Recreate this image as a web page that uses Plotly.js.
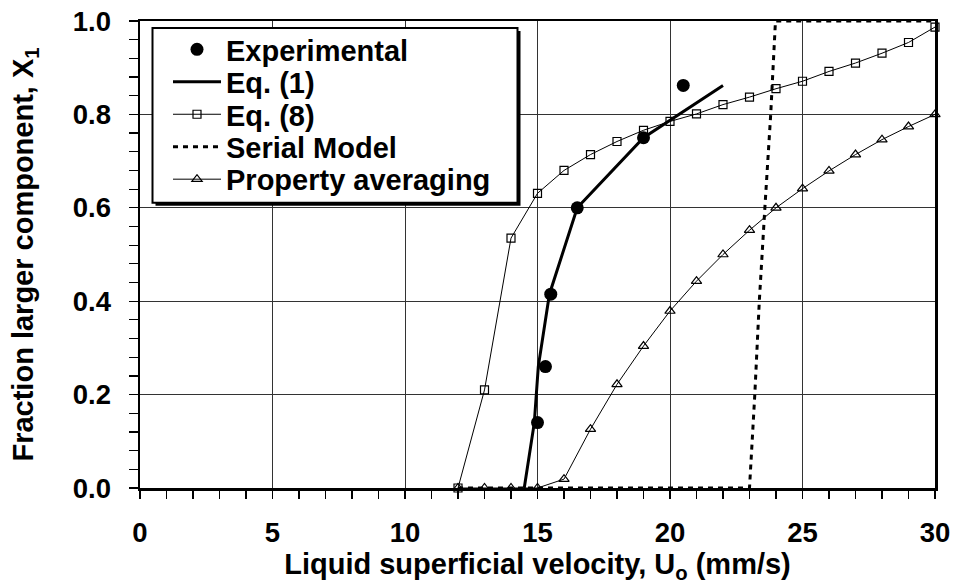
<!DOCTYPE html>
<html>
<head>
<meta charset="utf-8">
<script src="https://cdn.plot.ly/plotly-3.0.1.min.js"></script>
<style>html,body{margin:0;padding:0;background:#fff;}#chart{width:953px;height:584px;}</style>
</head>
<body>
<div id="chart"></div>
<script>
// ---- data ----
var expX = [15.0, 15.3, 15.5, 16.5, 19.0, 20.5];
var expY = [0.14, 0.26, 0.415, 0.60, 0.75, 0.862];

var eq1X = [14.5, 14.88, 15.03, 15.45, 16.5, 19.0, 22.0];
var eq1Y = [0.0, 0.14, 0.26, 0.415, 0.60, 0.75, 0.862];

var eq8X = [12, 13, 14, 15, 16, 17, 18, 19, 20, 21, 22, 23, 24, 25, 26, 27, 28, 29, 30];
var eq8Y = [0.0, 0.21, 0.535, 0.631, 0.68, 0.714, 0.742, 0.766, 0.785, 0.801, 0.821, 0.837, 0.855, 0.871, 0.892, 0.91, 0.931, 0.954, 0.987];

var serX = [12, 23.0, 23.2, 23.37, 23.58, 23.8, 23.98, 30];
var serY = [0.0, 0.0, 0.2, 0.4, 0.6, 0.8, 1.0, 1.0];

var propX = [12, 13, 14, 15, 16, 17, 18, 19, 20, 21, 22, 23, 24, 25, 26, 27, 28, 29, 30];
var propY = [0.0, 0.0, 0.0, 0.0, 0.019, 0.126, 0.222, 0.304, 0.379, 0.443, 0.50, 0.552, 0.60, 0.641, 0.679, 0.714, 0.746, 0.774, 0.80];

var xTickVals = [0, 5, 10, 15, 20, 25, 30];
var yTickVals = [0.0, 0.2, 0.4, 0.6, 0.8, 1.0];

var FONT = 'Liberation Sans, Arial, Helvetica, sans-serif';

var traces = [
  {x: eq8X, y: eq8Y, name: 'Eq. (8)', type: 'scatter', mode: 'lines+markers',
   line: {color: '#000', width: 1},
   marker: {symbol: 'square-open', size: 8, color: '#000', line: {width: 1.2, color: '#000'}},
   legend: 'legend3', cliponaxis: false},
  {x: propX, y: propY, name: 'Property averaging', type: 'scatter', mode: 'lines+markers',
   line: {color: '#000', width: 1},
   marker: {symbol: 'triangle-up-open', size: 9, color: '#000', line: {width: 1.2, color: '#000'}},
   legend: 'legend5', cliponaxis: false},
  {x: serX, y: serY, name: 'Serial Model', type: 'scatter', mode: 'lines',
   line: {color: '#000', width: 3, dash: '5px,5px'},
   legend: 'legend4'},
  {x: eq1X, y: eq1Y, name: 'Eq. (1)', type: 'scatter', mode: 'lines',
   line: {color: '#000', width: 3},
   legend: 'legend2'},
  {x: expX, y: expY, name: 'Experimental', type: 'scatter', mode: 'markers',
   marker: {symbol: 'circle', size: 13, color: '#000'},
   legend: 'legend', cliponaxis: false}
];

// plot area in px: x 140..935, y 20.5..488
function px2x(p) { return (p - 140) / 795; }
function px2y(p) { return (488 - p) / 467.5; }

function leg(yc) {
  return {x: px2x(168), y: px2y(yc), xanchor: 'left', yanchor: 'middle',
    bgcolor: 'rgba(0,0,0,0)', borderwidth: 0,
    font: {family: FONT, size: 29, color: '#000', weight: 'bold'},
    itemwidth: 48};
}

var layout = {
  width: 953, height: 584,
  margin: {l: 140, r: 18, t: 20.5, b: 96},
  paper_bgcolor: '#fff', plot_bgcolor: '#fff',
  font: {family: FONT, color: '#000', weight: 'bold'},
  showlegend: true,
  legend: leg(49),
  legend2: leg(81.5),
  legend3: leg(114),
  legend4: leg(146.5),
  legend5: leg(179),
  xaxis: {
    range: [0, 30], tickmode: 'array', tickvals: xTickVals,
    showgrid: true, gridcolor: '#333', gridwidth: 1,
    showline: true, linecolor: '#000', linewidth: 2.5, mirror: true,
    ticks: 'outside', ticklen: 8, tickwidth: 1.2, tickcolor: '#000',
    minor: {dtick: 1, tick0: 0, ticks: 'outside', ticklen: 8, tickwidth: 1.2, tickcolor: '#000', showgrid: false},
    tickfont: {family: FONT, size: 27.5, color: '#000', weight: 'bold'},
    ticklabelstandoff: 10,
    zeroline: false,
    title: {text: 'Liquid superficial velocity, U<sub>o</sub> (mm/s)', standoff: 9,
      font: {family: FONT, size: 29, color: '#000', weight: 'bold'}}
  },
  yaxis: {
    range: [0, 1], tickmode: 'array', tickvals: yTickVals, tickformat: '.1f',
    showgrid: true, gridcolor: '#333', gridwidth: 1,
    showline: true, linecolor: '#000', linewidth: 2.5, mirror: true,
    ticks: 'outside', ticklen: 9, tickwidth: 1.2, tickcolor: '#000',
    minor: {dtick: 0.04, tick0: 0, ticks: 'outside', ticklen: 9, tickwidth: 1.2, tickcolor: '#000', showgrid: false},
    tickfont: {family: FONT, size: 27.5, color: '#000', weight: 'bold'},
    ticklabelstandoff: 12,
    zeroline: false,
    title: {text: 'Fraction larger component, X<sub>1</sub>', standoff: 31,
      font: {family: FONT, size: 29, color: '#000', weight: 'bold'}}
  },
  shapes: [
    {type: 'rect', xref: 'paper', yref: 'paper', layer: 'above',
     x0: px2x(155.5), x1: px2x(520.5), y0: px2y(205.5), y1: px2y(30.5),
     fillcolor: '#000', line: {width: 0}},
    {type: 'rect', xref: 'paper', yref: 'paper', layer: 'above',
     x0: px2x(152.5), x1: px2x(517.5), y0: px2y(202.5), y1: px2y(27.5),
     fillcolor: '#fff', line: {color: '#000', width: 2}}
  ]
};

Plotly.newPlot('chart', traces, layout, {displayModeBar: false, staticPlot: true});
</script>
</body>
</html>
